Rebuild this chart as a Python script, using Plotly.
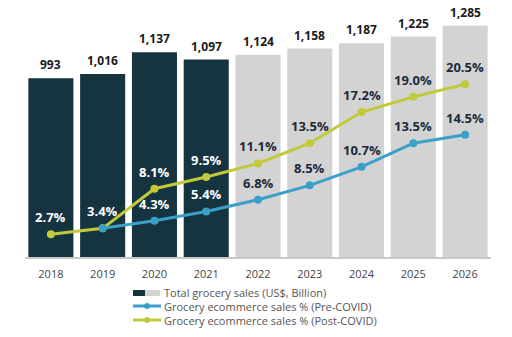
import plotly.graph_objects as go

years = ["2018", "2019", "2020", "2021", "2022", "2023", "2024", "2025", "2026"]
total_sales = [993, 1016, 1137, 1097, 1124, 1158, 1187, 1225, 1285]
pre_covid = [None, 3.4, 4.3, 5.4, 6.8, 8.5, 10.7, 13.5, 14.5]
post_covid = [2.7, 3.4, 8.1, 9.5, 11.1, 13.5, 17.2, 19.0, 20.5]
actual_years = 4  # first four years are actuals (dark bars)

DARK = "#15343F"
GREY = "#D3D3D3"
BLUE = "#3BA0C8"
YELLOW = "#C2C93A"
FONT = "Open Sans"

bar_colors = [DARK if i < actual_years else GREY for i in range(len(years))]

fig = go.Figure()
fig.add_trace(go.Bar(x=years, y=total_sales, marker=dict(color=bar_colors, line=dict(width=0)),
                     showlegend=False, hoverinfo="skip"))
fig.add_trace(go.Scatter(x=years, y=post_covid, yaxis="y2", mode="lines+markers",
                         line=dict(color=YELLOW, width=3), marker=dict(size=8, color=YELLOW),
                         showlegend=False))
fig.add_trace(go.Scatter(x=years, y=pre_covid, yaxis="y2", mode="lines+markers",
                         line=dict(color=BLUE, width=3), marker=dict(size=8, color=BLUE),
                         showlegend=False))

ann = []
# category axis: annotation x given as category index
for i, v in enumerate(total_sales):
    ann.append(dict(x=i, y=v, xref="x", yref="y", text=f"<b>{v:,}</b>", showarrow=False,
                    yanchor="bottom", yshift=3, font=dict(family=FONT, size=12, color="#1a1a1a")))
for series in (post_covid, pre_covid):
    for i, v in enumerate(series):
        if v is None or (series is pre_covid and i < 2):
            continue
        col = "white" if i < actual_years else "#1B2A3A"
        ann.append(dict(x=i, y=v, xref="x", yref="y2", text=f"<b>{v:.1f}%</b>", showarrow=False,
                        yanchor="middle", yshift=17, font=dict(family=FONT, size=13, color=col)))

# manual legend (pixel -> paper conversion)
L, R_, T, B = 25, 491, 5, 257
W, H = R_ - L, B - T


def to_px(x):
    return (x - L) / W


def to_py(y):
    return (B - y) / H


shapes = [
    dict(type="rect", xref="paper", yref="paper", x0=to_px(133), x1=to_px(145), y0=to_py(296), y1=to_py(290),
         fillcolor=DARK, line=dict(width=0)),
    dict(type="rect", xref="paper", yref="paper", x0=to_px(145), x1=to_px(160), y0=to_py(296), y1=to_py(290),
         fillcolor=GREY, line=dict(width=0)),
]
leg_rows = [("Total grocery sales (US$, Billion)", 292, None),
            ("Grocery ecommerce sales % (Pre-COVID)", 306, BLUE),
            ("Grocery ecommerce sales % (Post-COVID)", 320, YELLOW)]
for text, yy, col in leg_rows:
    if col:
        shapes.append(dict(type="line", xref="paper", yref="paper", x0=to_px(133), x1=to_px(161),
                           y0=to_py(yy), y1=to_py(yy), line=dict(color=col, width=3)))
        shapes.append(dict(type="circle", xref="paper", yref="paper", x0=to_px(144), x1=to_px(150),
                           y0=to_py(yy + 3), y1=to_py(yy - 3), fillcolor=col, line=dict(width=0)))
    ann.append(dict(x=to_px(162), y=to_py(yy), xref="paper", yref="paper", text=text, showarrow=False,
                    xanchor="left", yanchor="middle", font=dict(family=FONT, size=11, color="#555555")))

fig.update_layout(
    width=512, height=337,
    margin=dict(l=L, r=512 - R_, t=T, b=337 - B),
    paper_bgcolor="white", plot_bgcolor="white",
    bargap=0.13,
    showlegend=False,
    xaxis=dict(type="category", categoryorder="array", categoryarray=years, range=[-0.5, len(years) - 0.5],
               showgrid=False, showline=True, linecolor="#C8C8C8", linewidth=2,
               ticks="outside", ticklen=6, tickcolor="rgba(0,0,0,0)",
               tickfont=dict(family=FONT, size=11, color="#444444")),
    yaxis=dict(range=[0, 1400], visible=False, showgrid=False),
    yaxis2=dict(range=[0, 29.9], overlaying="y", visible=False, showgrid=False),
    annotations=ann,
    shapes=shapes,
    font=dict(family=FONT),
)

fig.write_html("out.html")
